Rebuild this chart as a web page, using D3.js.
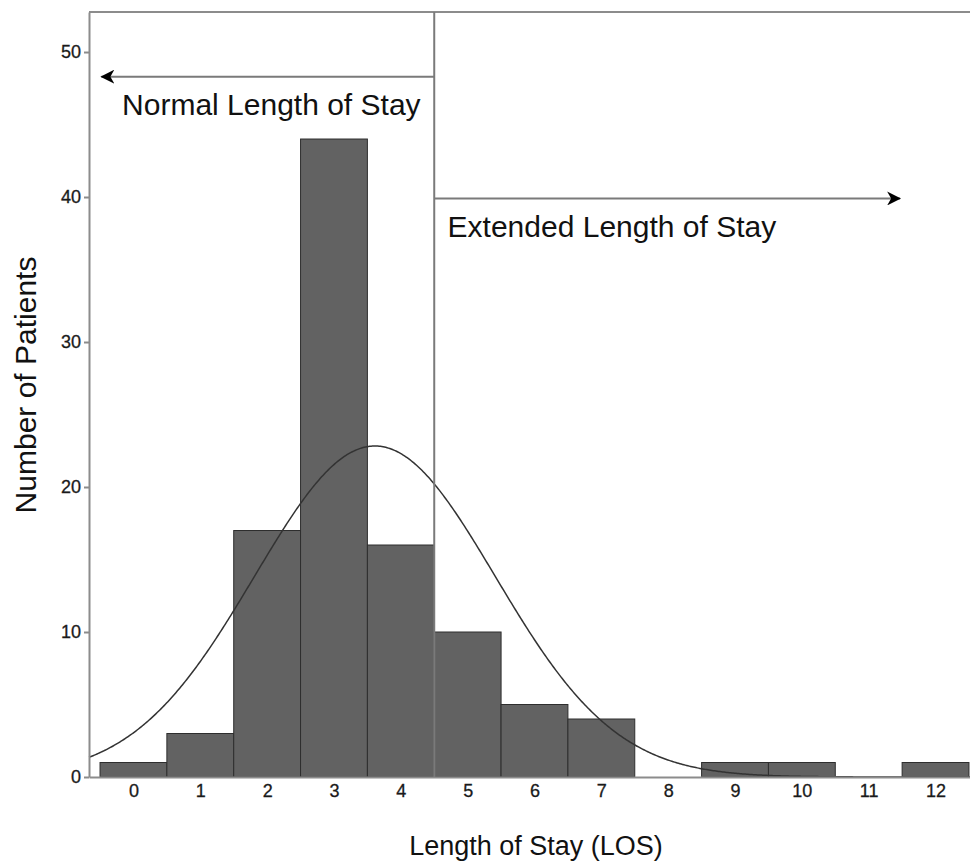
<!DOCTYPE html>
<html>
<head>
<meta charset="utf-8">
<script src="https://cdn.jsdelivr.net/npm/d3@7"></script>
<style>
    body { margin: 0; background: #fff; }
    svg { display: block; font-family: "Liberation Sans", Arial, sans-serif; }
    .axis path, .axis line { stroke: #8c8c8c; stroke-width: 2; }
    .bar { fill: #626262; stroke: #2e2e2e; stroke-width: 1; }
    .curve { fill: none; stroke: #333; stroke-width: 1.5; }
    .guide { stroke: #7a7a7a; stroke-width: 2; fill: none; }
    .note { fill: #111; font-size: 30px; }
    .title { fill: #111; }
</style>
</head>
<body>
<svg width="970" height="865"></svg>
<script>
// histogram of length of stay (days)
var losDays = [0, 1, 2, 3, 4, 5, 6, 7, 8, 9, 10, 11, 12];
var patients = [1, 3, 17, 44, 16, 10, 5, 4, 0, 1, 1, 0, 1];
var yTicks = [0, 10, 20, 30, 40, 50];

// cut-off between normal and extended stay
var cutoff = 4.5;

var svg = d3.select("svg");
var x = d3.scaleLinear().domain([-0.665, 12.68]).range([89, 981]);
var y = d3.scaleLinear().domain([0, 52.76]).range([777, 12]);

function binWidth() {
    return x(1) - x(0);
}

// bars
svg.append("g").selectAll("rect")
    .data(losDays)
    .enter().append("rect")
    .attr("class", "bar")
    .attr("x", function(d) { return x(d - 0.5); })
    .attr("width", binWidth())
    .attr("y", function(d, i) { return y(patients[i]); })
    .attr("height", function(d, i) { return y(0) - y(patients[i]); })
    .style("display", function(d, i) { return patients[i] == 0 ? "none" : null; });

// normal curve fitted to the histogram
var n = d3.sum(patients);
var mean = d3.sum(losDays, function(d, i) { return d * patients[i]; }) / n;
var sq = d3.sum(losDays, function(d, i) { return patients[i] * (d - mean) * (d - mean); });
var sd = Math.sqrt(sq / (n - 1));
function fitted(v) {
    var z = (v - mean) / sd;
    return n / (sd * Math.sqrt(2 * Math.PI)) * Math.exp(-z * z / 2);
}
var grid = d3.range(x.domain()[0], x.domain()[1], 0.02);
svg.append("path")
    .attr("class", "curve")
    .attr("d", d3.line()
        .x(function(d) { return x(d); })
        .y(function(d) { return y(fitted(d)); })(grid));

// axes
var xAxis = d3.axisBottom(x).tickValues(losDays).tickSize(0).tickPadding(7);
var gx = svg.append("g")
    .attr("class", "axis")
    .attr("transform", "translate(0," + y(0) + ")")
    .call(xAxis);

var yAxis = d3.axisLeft(y).tickValues(yTicks).tickSize(5).tickPadding(3).tickSizeOuter(0);
var gy = svg.append("g")
    .attr("class", "axis")
    .attr("transform", "translate(" + x.range()[0] + ",0)")
    .call(yAxis);

[gx, gy].forEach(function(g) {
    g.attr("font-family", "Liberation Sans, Arial, sans-serif").attr("font-size", 18);
    g.selectAll("text").attr("fill", "#1a1a1a").style("paint-order", "stroke")
        .attr("stroke", "#1a1a1a").attr("stroke-width", 0.3);
});

// top frame line
svg.append("line")
    .attr("class", "guide")
    .style("stroke", "#8c8c8c")
    .attr("x1", x.range()[0]).attr("x2", x.range()[1])
    .attr("y1", y.range()[1]).attr("y2", y.range()[1]);

// cutoff line
svg.append("line")
    .attr("class", "guide")
    .attr("x1", x(cutoff)).attr("x2", x(cutoff))
    .attr("y1", y.range()[1]).attr("y2", y(0));

// arrow markers
svg.append("defs").append("marker")
    .attr("id", "head")
    .attr("viewBox", "0 0 14 14")
    .attr("refX", 13).attr("refY", 7)
    .attr("markerWidth", 14).attr("markerHeight", 14)
    .attr("markerUnits", "userSpaceOnUse")
    .attr("orient", "auto")
    .append("path")
    .attr("d", "M0,0 L14,7 L0,14 L4,7 Z")
    .attr("fill", "#000");

var arrows = [
    { from: cutoff, to: -0.48, level: 48.3 },
    { from: cutoff, to: 11.47, level: 39.9 }
];
svg.append("g").selectAll("line")
    .data(arrows)
    .enter().append("line")
    .attr("class", "guide")
    .attr("x1", function(d) { return x(d.from); })
    .attr("x2", function(d) { return x(d.to); })
    .attr("y1", function(d) { return y(d.level); })
    .attr("y2", function(d) { return y(d.level); })
    .attr("marker-end", "url(#head)");

var notes = [
    { text: "Normal Length of Stay", at: -0.17, level: 45.66 },
    { text: "Extended Length of Stay", at: 4.7, level: 37.24 }
];
svg.append("g").selectAll("text")
    .data(notes)
    .enter().append("text")
    .attr("class", "note")
    .attr("x", function(d) { return x(d.at); })
    .attr("y", function(d) { return y(d.level); })
    .text(function(d) { return d.text; });

// axis titles
svg.append("text")
    .attr("class", "title")
    .attr("text-anchor", "middle")
    .attr("font-size", 27)
    .attr("x", 536)
    .attr("y", 855)
    .text("Length of Stay (LOS)");

svg.append("text")
    .attr("class", "title")
    .attr("text-anchor", "middle")
    .attr("font-size", 30)
    .attr("transform", "translate(36,385) rotate(-90)")
    .text("Number of Patients");
</script>
</body>
</html>
